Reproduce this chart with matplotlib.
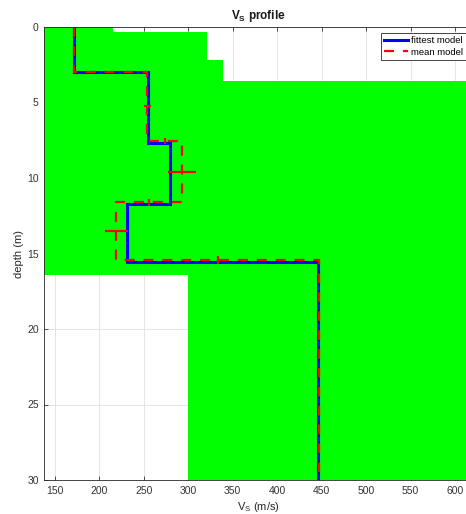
import numpy as np
import matplotlib.pyplot as plt

plt.rcParams['font.family'] = 'Liberation Sans'
plt.rcParams['mathtext.fontset'] = 'custom'
plt.rcParams['mathtext.rm'] = 'Liberation Sans'
plt.rcParams['mathtext.bf'] = 'Liberation Sans:bold'

## envelope of all tested models (green band)
env_depth = [0, 0.31, 2.18, 3.58, 16.42, 30]
env_vs_min = [120, 120, 120, 120, 300]
env_vs_max = [215, 321, 339, 700, 700]

## fittest model
fit_depth = [0, 2.96, 7.66, 11.72, 15.54, 30]
fit_vs = [171, 255, 279, 231, 446]

## mean model and its standard deviations
mean_depth = [0, 2.96, 7.55, 11.61, 15.43, 30]
mean_vs = [171, 254, 293, 219, 447]
std_vs = [0, 4, 16, 13, 0]
std_depth = [0, 0.17, 0.22, 0.24]

xticks = np.arange(150, 601, 50)
yticks = np.arange(0, 31, 5)

fig = plt.figure(figsize=(4.66, 5.14), dpi=100)
ax = fig.add_axes([44.3/466, 34/514, (472-44.3)/466, 453/514])

ax.stairs(env_vs_max, env_depth, baseline=env_vs_min, fill=True,
          orientation='horizontal', color='#00ff00', zorder=1)

ax.stairs(fit_vs, fit_depth, baseline=None, orientation='horizontal',
          color='#0000ff', lw=2.2, label='fittest model', zorder=3)
ax.stairs(mean_vs, mean_depth, baseline=None, orientation='horizontal',
          color='#ff0000', lw=1.6, ls=(0, (4.5, 4.0)), label='mean model', zorder=4)

# horizontal error bars at layer mid depths
md = np.array(mean_depth)
mid = (md[:-1] + md[1:]) / 2
ax.errorbar(mean_vs, mid, xerr=std_vs, fmt='none', ecolor='#ff0000',
            elinewidth=1.6, capsize=0, zorder=4)
# vertical error bars on interfaces
mv = np.array(mean_vs)
ax.errorbar((mv[:-1] + mv[1:]) / 2, md[1:-1], yerr=std_depth, fmt='none',
            ecolor='#ff0000', elinewidth=1.6, capsize=0, zorder=4)

ax.set_xlim(138, 138 + (472-44.3)/0.8889)
ax.set_ylim(30, 0)
ax.set_xticks(xticks)
ax.set_yticks(yticks)
ax.grid(True, color='0.88', lw=0.6)
ax.set_axisbelow(True)
ax.tick_params(direction='in', length=3, width=0.6, top=True, right=True,
               labelsize=7.5, colors='0.2', pad=4)
for s in ax.spines.values():
    s.set_color('0.15')
    s.set_linewidth(0.6)
    s.set_zorder(5)

ax.set_title(r'V$_\mathbf{S}$ profile', fontsize=8.5, fontweight='bold', color='0.1', pad=6)
ax.set_xlabel(r'V$_\mathrm{S}$ (m/s)', fontsize=8, color='0.15', labelpad=3)
ax.set_ylabel('depth (m)', fontsize=8, color='0.15', labelpad=2)

leg = ax.legend(loc='upper right', bbox_to_anchor=(1 - 6/427.7, 1 - 6/453),
                fontsize=6.8, handlelength=2.5, handletextpad=0.3, labelspacing=0.25,
                borderpad=0.35, borderaxespad=0, fancybox=False, framealpha=1)
leg.get_frame().set_edgecolor('0.15')
leg.get_frame().set_linewidth(0.6)

fig.savefig('out.png', dpi=100)
